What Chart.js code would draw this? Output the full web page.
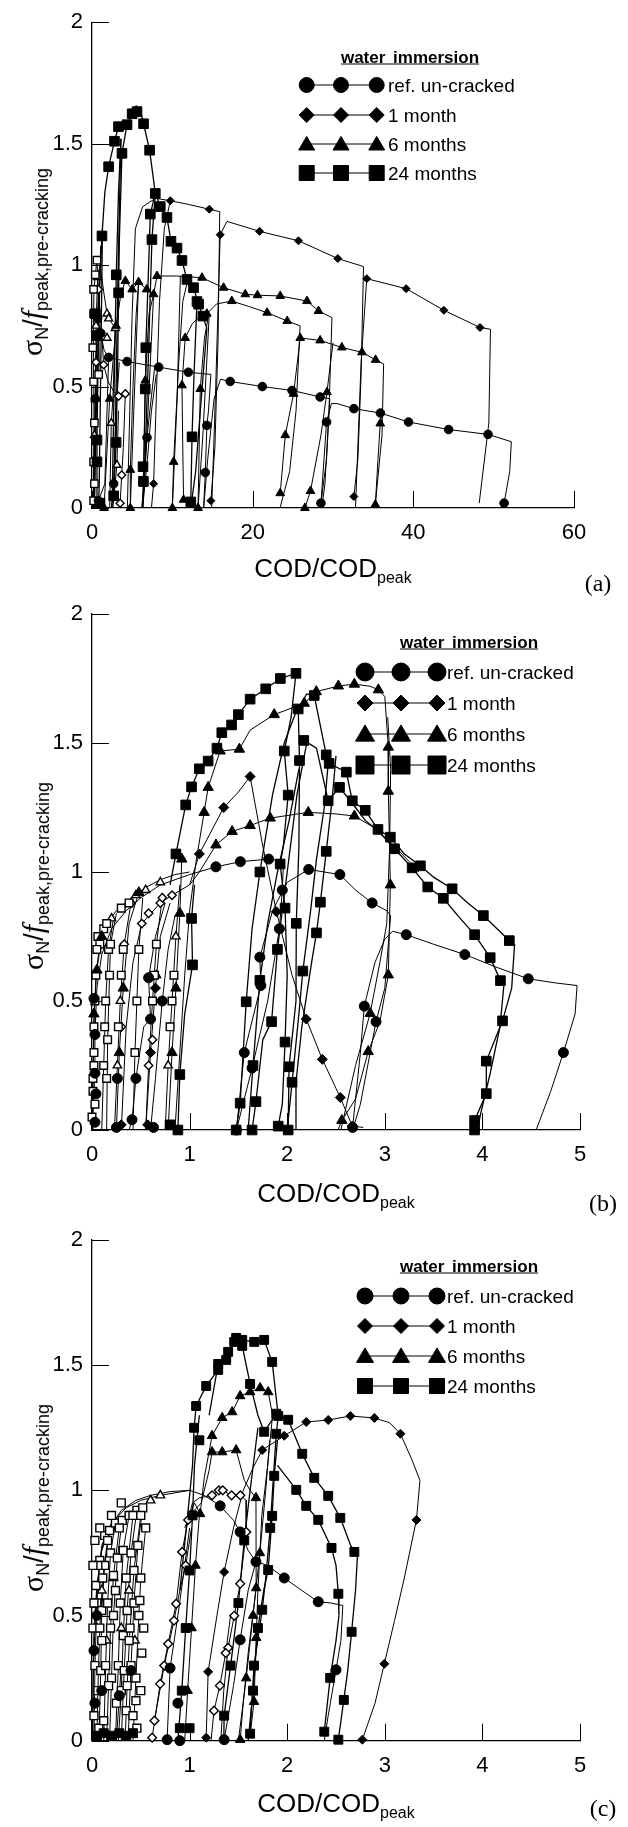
<!DOCTYPE html>
<html>
<head>
<meta charset="utf-8">
<script src="https://cdn.jsdelivr.net/npm/chart.js@4.4.1/dist/chart.umd.min.js"></script>
<style>
  body { margin:0; background:#fff; width:628px; height:1827px; position:relative; overflow:hidden;
         font-family:'Liberation Sans', Arial, sans-serif; color:#000; }
  canvas { position:absolute; left:0; }
  .t { position:absolute; white-space:nowrap; line-height:1; }
  .xt { font-size:26px; transform:translate(-50%,-50%); }
  .xt sub, .yt sub { font-size:16px; vertical-align:-0.35em; line-height:0; }
  .yt { font-size:27px; transform:translate(-50%,-50%) rotate(-90deg); }
  .yt .s { font-family:'Liberation Serif', serif; font-size:30px; }
  .yt i { font-family:'Liberation Serif', serif; font-size:30px; }
  .yt sub { font-size:18px; }
  .pl { font-family:'Liberation Serif', serif; font-size:24px; transform:translate(-50%,-50%); }
  .lt { font-size:17px; font-weight:bold; text-decoration:underline; transform:translate(-50%,-50%); word-spacing:3px; }
  .li { font-size:19px; transform:translateY(-50%); }
</style>
</head>
<body>
<canvas id="ca" width="628" height="560" style="top:0px"></canvas>
<canvas id="cb" width="628" height="590" style="top:590px"></canvas>
<canvas id="cc" width="628" height="575" style="top:1215px"></canvas>

<!-- panel (a) texts -->
<div class="t xt" style="left:333px;top:568px">COD/COD<sub>peak</sub></div>
<div class="t yt" style="left:32px;top:262px"><span class="s">σ</span><sub>N</sub>/<i>f</i><sub>peak,pre-cracking</sub></div>
<div class="t pl" style="left:598px;top:583px">(a)</div>
<div class="t lt" style="left:410px;top:57px">water immersion</div>
<div class="t li" style="left:388px;top:85px">ref. un-cracked</div>
<div class="t li" style="left:388px;top:115px">1 month</div>
<div class="t li" style="left:388px;top:144px">6 months</div>
<div class="t li" style="left:388px;top:173px">24 months</div>

<!-- panel (b) texts -->
<div class="t xt" style="left:336px;top:1193px">COD/COD<sub>peak</sub></div>
<div class="t yt" style="left:33px;top:876px"><span class="s">σ</span><sub>N</sub>/<i>f</i><sub>peak,pre-cracking</sub></div>
<div class="t pl" style="left:603px;top:1203px">(b)</div>
<div class="t lt" style="left:469px;top:642px">water immersion</div>
<div class="t li" style="left:447px;top:672px">ref. un-cracked</div>
<div class="t li" style="left:447px;top:703px">1 month</div>
<div class="t li" style="left:447px;top:734px">6 months</div>
<div class="t li" style="left:447px;top:765px">24 months</div>

<!-- panel (c) texts -->
<div class="t xt" style="left:336px;top:1803px">COD/COD<sub>peak</sub></div>
<div class="t yt" style="left:33px;top:1498px"><span class="s">σ</span><sub>N</sub>/<i>f</i><sub>peak,pre-cracking</sub></div>
<div class="t pl" style="left:603px;top:1808px">(c)</div>
<div class="t lt" style="left:469px;top:1266px">water immersion</div>
<div class="t li" style="left:447px;top:1296px">ref. un-cracked</div>
<div class="t li" style="left:447px;top:1326px">1 month</div>
<div class="t li" style="left:447px;top:1356px">6 months</div>
<div class="t li" style="left:447px;top:1386px">24 months</div>

<script>
// ---- panel (a) data: COD/CODpeak vs sigma_N / f_peak,pre-cracking ----
const aRefLines = [
  [[0.2,0],[0.4,0.45],[0.7,0.78],[1.1,0.72],[1.5,0.65],[2.07,0.62],[4.36,0.603],[8.3,0.58],[12.0,0.559],[14.8,0.55]],
  [[14.8,0.55],[14.5,0.4],[14.3,0.34],[14.1,0.146],[13.9,0]],
  [[13.9,0],[14.4,0.2],[15.2,0.45],[16.0,0.53],[17.2,0.521],[21.2,0.5],[24.9,0.484],[28.4,0.457],[29.6,0.45]],
  [[29.6,0.45],[29.2,0.2],[28.5,0.02]],
  [[28.5,0.02],[29.2,0.354],[29.8,0.43],[30.5,0.43],[32.6,0.409],[35.9,0.391],[39.4,0.354],[44.4,0.323],[49.3,0.303],[52.2,0.273]],
  [[52.2,0.273],[52.0,0.15],[51.3,0.02]],
  [[7.8,0.58],[7.2,0.4],[6.85,0.29],[6.5,0.1],[6.3,0]],
  [[6.3,0],[6.9,0.2],[7.4,0.4],[8.0,0.55]],
  [[0.8,0.03],[1.6,0.1],[2.07,0.62]],
  [[2.4,0],[2.7,0.1],[3.0,0.4],[3.4,0.6]]
];
const aRefMarks = [[2.07,0.62],[4.36,0.603],[8.3,0.58],[12.0,0.559],[14.3,0.34],[14.1,0.146],[17.2,0.521],[21.2,0.5],
  [24.9,0.484],[28.4,0.457],[28.5,0.02],[29.2,0.354],[32.6,0.409],[35.9,0.391],[39.4,0.354],[44.4,0.323],[49.3,0.303],
  [51.3,0.02],[6.85,0.29],[0.4,0.45],[0.7,0.78],[1.1,0.72],[0.8,0.03],[2.7,0.1]];

const aM1Lines = [
  [[4.4,0],[4.7,0.4],[5.0,0.8],[5.4,1.15],[6.3,1.24],[7.9,1.275],[9.75,1.265],[12.0,1.25],[14.6,1.23],[15.9,1.22]],
  [[15.9,1.22],[15.7,0.7],[15.3,0.25],[14.8,0.03]],
  [[14.9,0],[15.4,0.5],[15.8,0.95],[15.96,1.125],[16.8,1.18],[20.86,1.139],[25.7,1.1],[30.6,1.027],[33.8,0.994]],
  [[33.8,0.994],[33.5,0.55],[33.1,0.2],[32.6,0.047]],
  [[32.8,0],[33.5,0.6],[34.2,0.944],[39.1,0.903],[43.8,0.814],[48.3,0.743],[49.6,0.736]],
  [[49.6,0.736],[49.4,0.35],[48.2,0.02]],
  [[7.4,0],[7.67,0.1],[8.0,0.45],[8.4,0.85],[9.0,1.15],[9.75,1.265]]
];
const aM1Marks = [[9.75,1.265],[14.6,1.23],[15.96,1.125],[20.86,1.139],[25.7,1.1],[30.6,1.027],[34.2,0.944],[39.1,0.903],
  [43.8,0.814],[48.3,0.743],[32.6,0.047],[14.8,0.03],[7.67,0.1]];

const aM6Lines = [
  [[1.5,0],[2.2,0.45],[3.0,0.75],[3.6,0.88],[4.15,0.935],[5.0,0.9],[5.8,0.93],[6.8,0.9],[7.67,0.88],[8.09,0.955],[10.5,0.955],
   [13.69,0.948],[16.38,0.907],[19.08,0.88],[20.6,0.876],[23.43,0.873],[26.76,0.852],[28.2,0.811],[29.87,0.784]],
  [[29.87,0.784],[29.5,0.4],[29.0,0.1],[28.6,0]],
  [[26.5,0],[27.2,0.07],[28.5,0.3],[29.25,0.477],[29.7,0.6],[30.0,0.68]],
  [[11.4,0.034],[11.3,0.25],[11.2,0.505],[11.6,0.7],[12.5,0.76],[13.5,0.79],[14.3,0.8],[15.5,0.84],[17.4,0.852],[19.5,0.83],
   [21.8,0.804],[24.3,0.77],[25.9,0.75]],
  [[25.9,0.75],[25.4,0.4],[24.6,0.15],[23.4,0]],
  [[23.43,0.061],[24.06,0.3],[25.09,0.47],[25.92,0.7]],
  [[25.92,0.7],[28.4,0.69],[31.1,0.661],[33.6,0.641],[35.3,0.61],[36.3,0.593]],
  [[36.3,0.593],[36.1,0.3],[35.27,0.014]],
  [[35.27,0.014],[35.6,0.2],[35.88,0.348],[36.1,0.39]],
  [[5.8,0.93],[5.2,0.4],[4.77,0]],
  [[4.77,0],[4.77,0.157],[5.1,0.5],[5.5,0.8],[5.8,0.93]],
  [[7.67,0.88],[6.9,0.35],[6.3,0]],
  [[6.3,0],[6.42,0.1],[6.63,0.525],[7.1,0.8],[7.67,0.88]],
  [[11.0,0.955],[10.6,0.45],[10.0,0]],
  [[10.0,0],[10.16,0.19],[10.8,0.6],[11.3,0.85],[12.0,0.95]],
  [[14.6,0.8],[13.8,0.3],[13.2,0]],
  [[13.2,0],[13.48,0.49],[14.0,0.7],[14.5,0.79]]
];
const aM6Marks = [[4.15,0.935],[5.0,0.9],[5.8,0.93],[6.8,0.9],[7.67,0.88],[8.09,0.955],[13.69,0.948],[16.38,0.907],[19.08,0.88],
  [20.6,0.876],[23.43,0.873],[26.76,0.852],[28.2,0.811],[29.25,0.477],[27.2,0.07],[26.5,0],[14.3,0.8],[17.4,0.852],[21.8,0.804],
  [24.3,0.77],[23.43,0.061],[24.06,0.3],[25.09,0.47],[25.92,0.7],[28.4,0.69],[31.1,0.661],[33.6,0.641],[35.3,0.61],[35.27,0.014],
  [35.88,0.348],[4.77,0],[4.77,0.157],[6.42,0.1],[6.63,0.525],[10.0,0],[10.16,0.19],[11.2,0.505],[11.6,0.7],[11.4,0.034],
  [13.48,0.49],[13.2,0],[3.0,0.75],[2.2,0.45],[1.5,0]];

const aM24Lines = [
  [[0.3,0],[0.6,0.5],[1.0,0.95],[1.24,1.12],[1.6,1.3],[2.07,1.405],[2.8,1.51],[3.3,1.57],[4.36,1.578],[5.0,1.623],[5.5,1.655],
   [6.0,1.64],[6.42,1.582],[7.17,1.473],[7.88,1.295],[8.5,1.241],[9.33,1.196],[9.83,1.098],[10.58,1.07],[11.2,1.019],
   [11.82,0.941],[12.64,0.907],[13.27,0.839],[13.8,0.79],[14.3,0.74]],
  [[14.3,0.74],[13.6,0.45],[12.9,0.15],[12.3,0]],
  [[12.3,0.025],[12.45,0.293],[12.7,0.55],[13.07,0.85]],
  [[3.6,1.52],[3.2,0.9],[2.9,0.3],[2.7,0.05]],
  [[2.7,0.05],[3.0,0.27],[3.2,0.6],[3.31,0.886],[3.4,1.1],[3.73,1.46],[4.36,1.578]],
  [[2.5,0],[2.7,0.4],[3.02,0.96],[3.3,1.3],[3.6,1.52]],
  [[7.88,1.295],[7.46,1.105],[7.0,0.6],[6.5,0.1],[6.2,0]],
  [[6.3,0],[6.4,0.11],[6.63,0.49],[6.7,0.66],[7.0,0.95],[7.26,1.21],[7.88,1.295]],
  [[1.3,1.15],[1.1,0.6],[0.9,0.1],[0.8,0]],
  [[0.55,0],[0.62,0.19],[0.62,0.28],[0.75,0.6],[0.9,0.9],[1.1,1.08]]
];
const aM24Marks = [[1.24,1.12],[2.07,1.405],[2.8,1.51],[3.3,1.57],[4.36,1.578],[5.0,1.623],[5.6,1.632],[6.42,1.582],[7.17,1.473],
  [7.88,1.295],[8.5,1.241],[9.33,1.196],[9.83,1.098],[10.58,1.07],[11.2,1.019],[11.82,0.941],[12.64,0.907],[13.27,0.839],
  [13.8,0.79],[12.45,0.293],[12.3,0.025],[13.07,0.85],[3.73,1.46],[3.02,0.96],[3.31,0.886],[3.0,0.27],[2.7,0.05],[7.26,1.21],
  [7.46,1.105],[6.7,0.66],[6.63,0.49],[6.4,0.11],[0.62,0.19],[0.62,0.28],[1.0,0.02],[0.41,0.8],[0.6,0.71],[6.35,0.17]];

const aPreLines = [
  [[0.15,0],[0.2,0.19],[0.25,0.35],[0.22,0.52],[0.2,0.8],[0.25,0.9],[0.41,0.96],[0.62,1.02],[0.8,0.9],[0.9,0.6],[0.83,0.55]],
  [[0.2,0],[0.3,0.3],[0.41,0.45],[0.5,0.75],[0.7,0.95],[1.0,1.0],[1.5,0.88],[1.87,0.8],[2.07,0.78],[2.5,0.76],[2.9,0.74]],
  [[2.9,0.74],[2.6,0.45],[2.4,0.35],[2.2,0]],
  [[2.6,0],[3.1,0.177],[3.3,0.4]],
  [[0.3,0],[0.5,0.6],[0.8,0.9],[1.2,0.72],[1.45,0.59],[2.0,0.52],[2.7,0.48],[3.3,0.46],[4.15,0.47]],
  [[4.15,0.47],[3.9,0.25],[3.7,0.136],[3.5,0.02]]
];
const aOpenSq = [[0.2,0.03],[0.2,0.19],[0.3,0.35],[0.2,0.52],[0.2,0.8],[0.2,0.9],[0.41,0.96],[0.62,1.02],[0.83,0.55],[0.1,0.66],[0.3,0.1]];
const aOpenTri = [[0.3,0.3],[0.41,0.45],[0.5,0.75],[0.7,0.95],[1.87,0.8],[1.87,0.7],[2.07,0.78],[2.9,0.74],[2.4,0.35],[3.1,0.177]];
const aOpenDia = [[0.5,0.6],[0.8,0.9],[1.45,0.59],[3.3,0.46],[4.15,0.47],[3.7,0.136],[3.5,0.02]];

// ---- panel (b) data ----
const bRefLines = [
  [[0,0],[0.03,0.22],[0.03,0.37],[0.05,0.55],[0.1,0.68],[0.2,0.78],[0.35,0.85],[0.5,0.9],[0.7,0.95],[1.0,0.99],[1.27,1.02],
   [1.52,1.04],[1.81,1.05],[1.93,1.045],[1.96,1.02]],
  [[1.96,1.02],[1.95,0.93],[1.92,0.78],[1.8,0.5],[1.64,0.24],[1.48,0]],
  [[1.48,0],[1.56,0.3],[1.73,0.56],[1.72,0.67],[1.85,0.85],[2.0,0.96],[2.22,1.01],[2.54,0.99],[2.7,0.93],[2.87,0.88],[3.02,0.85],[3.06,0.83]],
  [[3.06,0.83],[3.0,0.55],[2.91,0.42],[2.75,0.1],[2.67,0]],
  [[2.67,0.01],[2.75,0.3],[2.79,0.48],[2.9,0.65],[3.0,0.74],[3.08,0.77]],
  [[3.08,0.77],[3.22,0.757],[3.5,0.72],[3.82,0.68],[4.15,0.63],[4.47,0.586],[4.75,0.57],[4.97,0.56]],
  [[4.97,0.56],[4.95,0.45],[4.83,0.3],[4.7,0.15],[4.55,0]],
  [[0.38,0],[0.41,0.04],[0.45,0.2],[0.53,0.4],[0.6,0.43],[0.58,0.59],[0.65,0.75],[0.75,0.88]],
  [[0.6,0],[0.65,0.2],[0.72,0.5],[0.78,0.7],[0.85,0.83]]
];
const bRefMarks = [[0.03,0.22],[0.03,0.37],[0.02,0.51],[0.04,0.14],[0.03,0.03],[1.27,1.02],[1.52,1.04],[1.81,1.05],[1.95,0.93],
  [1.92,0.78],[1.72,0.67],[1.73,0.56],[1.56,0.3],[1.64,0.24],[1.48,0],[2.22,1.01],[2.54,0.99],[2.87,0.88],[3.22,0.757],
  [3.82,0.68],[4.47,0.586],[4.83,0.3],[2.79,0.48],[2.91,0.42],[2.67,0.01],[0.41,0.04],[0.45,0.2],[0.6,0.43],[0.58,0.59],
  [0.72,0.5],[0.63,0.01],[0.25,0.01],[0.26,0.2]];

const bM1Lines = [
  [[0.3,0],[0.35,0.4],[0.42,0.65],[0.51,0.8],[0.7,0.88],[0.82,0.91],[1.0,0.95],[1.1,1.07],[1.35,1.25],[1.5,1.31],[1.58,1.35],[1.62,1.37]],
  [[1.62,1.37],[1.75,1.1],[1.89,0.846],[2.05,0.6],[2.195,0.43],[2.36,0.274],[2.544,0.126],[2.667,0.015],[2.78,0.01]],
  [[0.55,0],[0.6,0.3],[0.65,0.55],[0.7,0.75],[0.8,0.88]]
];
const bM1Marks = [[1.1,1.07],[1.35,1.25],[1.62,1.37],[1.89,0.846],[2.195,0.43],[2.36,0.274],[2.544,0.126],[2.667,0.015],
  [0.6,0.3],[0.65,0.55],[0.3,0.02],[0.57,0.02]];

const bM6Lines = [
  [[0.85,0],[0.9,0.3],[0.95,0.6],[1.0,0.85],[1.07,1.05],[1.149,1.231],[1.19,1.328],[1.313,1.469],[1.51,1.476],[1.62,1.55],
   [1.867,1.61],[2.175,1.654],[2.298,1.699],[2.524,1.721],[2.688,1.728],[2.85,1.72],[2.934,1.706],[3.0,1.68]],
  [[3.0,1.68],[3.036,1.484],[3.036,1.313],[3.057,0.95],[3.036,0.601],[2.95,0.42],[2.83,0.304],[2.7,0.12],[2.56,0.037],[2.52,0]],
  [[2.55,0],[2.7,0.25],[2.85,0.452],[2.95,0.65],[3.02,0.8],[3.05,1.1],[3.06,1.4],[3.03,1.6]],
  [[1.0,0.95],[1.1,1.0],[1.27,1.105],[1.436,1.157],[1.62,1.18],[1.826,1.209],[2.216,1.231],[2.5,1.225],[2.688,1.217],
   [2.9,1.17],[3.1,1.1],[3.35,1.0]],
  [[0,0],[0.02,0.45],[0.05,0.62],[0.1,0.75]],
  [[0.25,0],[0.28,0.3],[0.32,0.55],[0.38,0.8],[0.48,0.92]],
  [[0.78,0],[0.82,0.3],[0.86,0.55],[0.9,0.84],[0.92,1.05]]
];
const bM6Marks = [[1.149,1.231],[1.19,1.328],[1.313,1.469],[1.51,1.476],[1.867,1.61],[2.175,1.654],[2.298,1.699],[2.524,1.721],
  [2.688,1.728],[2.934,1.706],[3.036,1.484],[3.036,1.313],[3.057,0.95],[3.036,0.601],[2.83,0.304],[2.85,0.452],[2.56,0.037],
  [1.27,1.105],[1.436,1.157],[1.62,1.18],[1.826,1.209],[2.216,1.231],[2.688,1.217],[0.9,0.84],[0.92,1.05],[0.86,0.55],
  [0.02,0.45],[0.05,0.62],[0.28,0.3],[0.32,0.55],[0.48,0.92],[0.1,0.75],[0.82,0.3]];

const bM24Lines = [
  [[0.8,0.95],[0.86,1.07],[0.96,1.26],[1.02,1.33],[1.1,1.4],[1.19,1.43],[1.28,1.48],[1.33,1.54],[1.43,1.57],[1.5,1.61],
   [1.62,1.67],[1.78,1.71],[1.93,1.75],[2.09,1.77]],
  [[2.09,1.77],[2.04,1.6],[1.97,1.469],[2.01,1.298],[1.96,1.1],[1.928,1.031],[1.978,0.86],[2.0,0.6],[1.978,0.341],[1.95,0.1],[1.908,0.015]],
  [[2.01,0],[2.019,0.245],[2.09,0.5],[2.093,0.801],[2.12,1.1],[2.126,1.432],[2.113,1.632],[2.2,1.69],[2.277,1.684]],
  [[2.277,1.684],[2.4,1.454],[2.43,1.421],[2.606,1.387],[2.667,1.276],[2.8,1.239],[2.93,1.165],[3.057,1.135],[3.2,1.07],
   [3.365,1.024],[3.5,0.98],[3.69,0.935],[3.85,0.88],[4.01,0.831],[4.15,0.78],[4.276,0.734],[4.33,0.72]],
  [[4.33,0.72],[4.3,0.55],[4.206,0.423],[4.04,0.267],[4.04,0.141],[3.92,0.037],[3.92,0]],
  [[2.17,1.51],[2.3,1.48],[2.42,1.276],[2.536,1.328],[2.7,1.25],[2.8,1.2],[2.93,1.16],[3.1,1.09],[3.28,1.016],[3.44,0.942],
   [3.6,0.898],[3.75,0.83],[3.92,0.757],[4.08,0.668],[4.185,0.579],[4.22,0.56]],
  [[4.22,0.56],[4.18,0.4],[4.08,0.22],[3.98,0.06],[3.95,0]],
  [[1.477,0],[1.518,0.104],[1.58,0.497],[1.64,0.78],[1.72,1.0],[1.85,1.3],[1.97,1.5],[2.09,1.62]],
  [[1.64,0],[1.68,0.11],[1.75,0.35],[1.84,0.42],[1.9,0.7],[2.0,1.0],[2.1,1.3],[2.2,1.5]],
  [[2.0,0],[2.05,0.185],[2.12,0.45],[2.16,0.616],[2.24,0.85],[2.3,1.05],[2.38,1.25],[2.42,1.42]],
  [[2.09,0],[2.09,0.185],[2.15,0.4],[2.25,0.65],[2.3,0.764],[2.34,0.883],[2.4,1.08],[2.46,1.28],[2.5,1.45]],
  [[1.6,0],[1.65,0.25],[1.72,0.58],[1.8,0.8],[1.9,1.0],[2.02,1.2],[2.12,1.4]],
  [[0.88,0],[0.9,0.215],[0.95,0.45],[1.03,0.64],[1.02,0.82],[1.05,0.95]]
];
const bM24Marks = [[0.86,1.07],[0.96,1.26],[1.02,1.33],[1.1,1.4],[1.19,1.43],[1.28,1.48],[1.33,1.54],[1.43,1.57],[1.5,1.61],
  [1.62,1.67],[1.78,1.71],[1.93,1.75],[2.09,1.77],[1.97,1.469],[2.01,1.298],[1.928,1.031],[1.978,0.86],[1.978,0.341],
  [1.908,0.015],[2.01,0],[2.019,0.245],[2.093,0.801],[2.126,1.432],[2.113,1.632],[2.277,1.684],[2.4,1.454],[2.43,1.421],
  [2.606,1.387],[2.667,1.276],[2.8,1.239],[2.93,1.165],[3.057,1.135],[3.365,1.024],[3.69,0.935],[4.01,0.831],[4.276,0.734],
  [4.206,0.423],[4.04,0.267],[4.04,0.141],[3.92,0.037],[3.92,0],[2.17,1.51],[2.42,1.276],[2.536,1.328],[3.1,1.09],
  [3.28,1.016],[3.44,0.942],[3.6,0.898],[3.92,0.757],[4.08,0.668],[4.185,0.579],[1.477,0],[1.518,0.104],[1.58,0.497],
  [1.72,1.0],[1.64,0],[1.68,0.11],[1.84,0.42],[1.9,0.7],[2.05,0.185],[2.16,0.616],[2.3,0.764],[2.34,0.883],[2.4,1.08],
  [1.72,0.58],[1.65,0.25],[0.88,0],[0.8,0.02],[0.9,0.215],[1.03,0.64],[1.02,0.82]];

const bPreLines = [
  [[0,0],[0.01,0.2],[0.02,0.4],[0.04,0.6],[0.08,0.72],[0.15,0.8],[0.25,0.85],[0.4,0.9],[0.55,0.94],[0.7,0.97],[0.85,0.99],[1.0,1.0]],
  [[0.1,0],[0.12,0.25],[0.14,0.5],[0.17,0.7],[0.22,0.82]],
  [[0.15,0],[0.16,0.35],[0.18,0.6],[0.19,0.72],[0.25,0.84]],
  [[0.23,0],[0.26,0.25],[0.29,0.5],[0.33,0.72],[0.4,0.88]],
  [[0.42,0],[0.44,0.3],[0.46,0.5],[0.48,0.7],[0.52,0.9]],
  [[0.55,0],[0.58,0.25],[0.62,0.5],[0.66,0.72],[0.72,0.9]],
  [[0.75,0],[0.78,0.25],[0.82,0.5],[0.86,0.75],[0.9,0.95]]
];
const bOpenSq = [[0.01,0.2],[0.02,0.4],[0.04,0.6],[0.08,0.72],[0.12,0.78],[0.15,0.8],[0.12,0.25],[0.14,0.5],[0.17,0.7],
  [0.3,0.86],[0.38,0.88],[0.62,0.5],[0.64,0.6],[0.66,0.72],[0.82,0.5],[0.84,0.6],[0.03,0.1],[0.02,0.3],[0.13,0.4],[0.8,0.4],
  [0,0.05],[0.01,0.15],[0.02,0.25],[0.03,0.5],[0.05,0.7],[0.06,0.75],[0.15,0.2],[0.16,0.35],[0.18,0.6],[0.19,0.72],
  [0.27,0.4],[0.3,0.6],[0.32,0.7],[0.44,0.3],[0.46,0.5],[0.48,0.7]];
const bOpenTri = [[0.05,0.62],[0.2,0.82],[0.26,0.25],[0.29,0.5],[0.45,0.91],[0.55,0.93],[0.78,0.25],[0.86,0.75],[0.66,0.6],[0.7,0.96]];
const bOpenDia = [[0.33,0.72],[0.4,0.88],[0.51,0.8],[0.58,0.84],[0.7,0.88],[0.82,0.91],[0.58,0.25],[0.62,0.35],[0.72,0.9],[0.3,0.4]];

// ---- panel (c) data ----
const cRefLines = [
  [[0,0],[0.02,0.36],[0.05,0.6],[0.1,0.78],[0.2,0.87],[0.35,0.93],[0.5,0.96],[0.7,0.98],[1.0,1.0],[1.15,0.98],[1.313,0.938],
   [1.45,0.88],[1.518,0.834],[1.6,0.76],[1.68,0.715],[1.8,0.7],[1.97,0.65],[2.15,0.6],[2.318,0.555],[2.45,0.55],[2.57,0.54]],
  [[2.57,0.54],[2.55,0.4],[2.5,0.283],[2.42,0.1],[2.38,0]],
  [[0.75,0],[0.77,0.004],[0.8,0.29],[0.88,0.5],[0.95,0.7],[1.0,0.85]],
  [[1.34,0],[1.354,0.004],[1.45,0.22],[1.518,0.403],[1.6,0.6],[1.68,0.715]],
  [[0.25,0],[0.28,0.18],[0.3,0.3]]
];
const cRefMarks = [[0.02,0.36],[0.03,0.15],[0.05,0.5],[0.1,0.2],[1.313,0.938],[1.518,0.834],[1.68,0.715],[1.97,0.65],
  [2.318,0.555],[2.5,0.283],[0.77,0.004],[0.8,0.29],[1.354,0.004],[1.518,0.403],[0.28,0.18],[0.4,0.28],[0.88,0.15],[0.9,0]];

const cM1Lines = [
  [[1.15,0],[1.17,0.012],[1.19,0.275],[1.28,0.5],[1.354,0.674],[1.45,0.85],[1.55,1.0],[1.65,1.09],[1.744,1.161],[1.97,1.218],
   [2.195,1.273],[2.42,1.281],[2.647,1.297],[2.893,1.289],[3.05,1.27],[3.16,1.226],[3.28,1.12],[3.36,1.04],[3.34,0.95],
   [3.324,0.882],[3.2,0.65],[3.1,0.48],[2.995,0.307],[2.9,0.15],[2.77,0.004]],
  [[0.616,0.012],[0.698,0.227],[0.78,0.387],[0.862,0.547],[0.923,0.754],[0.985,0.882],[1.03,0.95],[1.1,0.97],[1.23,0.98],
   [1.3,1.0],[1.34,1.0],[1.43,0.98],[1.52,0.98],[1.58,0.96]],
  [[1.58,0.96],[1.58,0.834],[1.518,0.627],[1.457,0.499],[1.395,0.371],[1.35,0.2],[1.32,0]],
  [[0.64,0.08],[0.74,0.3],[0.84,0.48],[0.9,0.6],[0.96,0.7],[1.02,0.85]],
  [[1.22,0],[1.25,0.12],[1.31,0.22],[1.37,0.35],[1.42,0.5]]
];
const cM1Marks = [[1.17,0.012],[1.19,0.275],[1.354,0.674],[1.744,1.161],[1.97,1.218],[2.195,1.273],[2.42,1.281],[2.647,1.297],
  [2.893,1.289],[3.16,1.226],[3.324,0.882],[2.995,0.307],[2.77,0.004]];
const cOpenDia = [[0.616,0.012],[0.698,0.227],[0.78,0.387],[0.862,0.547],[0.923,0.754],[0.985,0.882],[1.23,0.98],[1.3,1.0],
  [1.34,1.0],[1.43,0.98],[1.52,0.98],[1.58,0.834],[1.518,0.627],[1.457,0.499],[1.395,0.371],[0.64,0.08],[0.74,0.3],
  [0.84,0.48],[0.96,0.7],[1.25,0.12],[1.31,0.22],[1.37,0.35]];

const cM6Lines = [
  [[0.95,0.85],[1.05,0.95],[1.108,0.906],[1.15,1.05],[1.23,1.218],[1.334,1.29],[1.436,1.313],[1.518,1.377],[1.62,1.393],
   [1.723,1.409],[1.805,1.393],[1.85,1.3]],
  [[1.85,1.3],[1.8,1.1],[1.74,0.9],[1.7,0.6],[1.682,0.411],[1.66,0.156],[1.62,0.02]],
  [[1.0,0.9],[1.12,0.95],[1.2,1.08],[1.23,1.153],[1.334,1.153],[1.477,1.161],[1.56,1.04],[1.62,1.0],[1.68,0.97]],
  [[1.68,0.97],[1.682,0.61],[1.6,0.35],[1.55,0.15],[1.518,0.004]],
  [[0.95,0],[0.98,0.2],[1.02,0.45],[1.06,0.7],[1.1,0.9]],
  [[1.5,0],[1.58,0.25],[1.65,0.5],[1.72,0.75],[1.78,1.0],[1.82,1.2]]
];
const cM6Marks = [[1.23,1.218],[1.334,1.29],[1.436,1.313],[1.518,1.377],[1.62,1.393],[1.723,1.409],[1.805,1.393],[1.682,0.411],
  [1.66,0.156],[1.23,1.153],[1.334,1.153],[1.477,1.161],[1.68,0.97],[1.682,0.61],[1.518,0.004],[1.108,0.906],[1.06,0.7],
  [1.02,0.45],[0.98,0.2],[1.65,0.5],[1.72,0.75],[1.58,0.25]];

const cM24Lines = [
  [[0.9,0.6],[0.98,0.9],[1.03,1.1],[1.046,1.25],[1.067,1.337],[1.17,1.417],[1.293,1.481],[1.395,1.553],[1.457,1.593],
   [1.539,1.601],[1.662,1.593],[1.764,1.601],[1.846,1.513]],
  [[1.846,1.513],[1.908,1.297],[1.888,1.226],[1.85,1.0],[1.826,0.85],[1.78,0.65],[1.744,0.523],[1.66,0.3],[1.62,0.028]],
  [[1.2,1.3],[1.293,1.505],[1.375,1.521],[1.477,1.609],[1.539,1.577],[1.62,1.425],[1.7,1.3],[1.764,1.234],[1.888,1.306],
   [2.01,1.282],[2.154,1.146],[2.277,1.05],[2.42,0.978],[2.544,0.89],[2.65,0.78],[2.688,0.754],[2.72,0.74]],
  [[2.72,0.74],[2.7,0.6],[2.66,0.435],[2.62,0.28],[2.58,0.163],[2.524,0.004]],
  [[1.9,1.1],[2.0,1.05],[2.093,1.002],[2.195,0.938],[2.318,0.882],[2.454,0.77],[2.5,0.7],[2.524,0.587],[2.53,0.5]],
  [[2.53,0.5],[2.5,0.4],[2.44,0.251],[2.38,0.036]],
  [[0.88,0],[0.92,0.2],[0.96,0.45],[1.0,0.68],[1.03,0.9],[1.05,1.1],[1.1,1.3]],
  [[1.35,0],[1.354,0.1],[1.42,0.3],[1.5,0.55],[1.56,0.8],[1.62,1.0],[1.7,1.25]],
  [[1.6,0],[1.65,0.2],[1.7,0.45],[1.76,0.6],[1.805,0.682],[1.846,0.898],[1.867,1.058],[1.9,1.2]]
];
const cM24Marks = [[1.046,1.25],[1.067,1.337],[1.17,1.417],[1.293,1.481],[1.395,1.553],[1.457,1.593],[1.539,1.601],[1.662,1.593],
  [1.764,1.601],[1.846,1.513],[1.908,1.297],[1.888,1.226],[1.826,0.85],[1.744,0.523],[1.66,0.3],[1.62,0.028],[1.293,1.505],
  [1.375,1.521],[1.477,1.609],[1.539,1.577],[1.62,1.425],[1.764,1.234],[1.888,1.306],[2.01,1.282],[2.154,1.146],[2.277,1.05],
  [2.42,0.978],[2.544,0.89],[2.688,0.754],[2.66,0.435],[2.58,0.163],[2.524,0.004],[2.093,1.002],[2.195,0.938],[2.318,0.882],
  [2.454,0.77],[2.524,0.587],[2.44,0.251],[2.38,0.036],[0.92,0.2],[0.96,0.45],[1.0,0.68],[1.03,0.9],[0.9,0.05],[1.354,0.1],
  [1.42,0.3],[1.5,0.55],[1.56,0.8],[1.805,0.682],[1.846,0.898],[1.867,1.058],[1.7,0.45],[1.65,0.2],[1.0,0.05],[1.1,1.2],
  [0.05,0.02],[0.12,0.03],[0.2,0.02],[0.28,0.03],[0.35,0.02],[0.42,0.03]];

const cPreLines = [
  [[0,0],[0.01,0.25],[0.02,0.45],[0.05,0.62],[0.1,0.76],[0.2,0.86],[0.3,0.92],[0.45,0.96],[0.6,0.98],[0.8,0.995],[1.0,1.0]],
  [[0.02,0],[0.03,0.3],[0.05,0.55],[0.08,0.72],[0.13,0.82]],
  [[0.05,0],[0.06,0.2],[0.08,0.45],[0.11,0.65],[0.16,0.8]],
  [[0.07,0],[0.09,0.28],[0.1,0.52],[0.13,0.7],[0.18,0.84]],
  [[0.12,0],[0.14,0.3],[0.16,0.55],[0.19,0.75],[0.24,0.87]],
  [[0.15,0],[0.17,0.22],[0.19,0.45],[0.22,0.66],[0.28,0.85]],
  [[0.18,0],[0.2,0.25],[0.22,0.5],[0.26,0.73],[0.31,0.88]],
  [[0.24,0],[0.27,0.3],[0.29,0.55],[0.32,0.76],[0.38,0.9]],
  [[0.27,0],[0.3,0.2],[0.32,0.42],[0.35,0.65],[0.42,0.9]],
  [[0.3,0],[0.33,0.28],[0.36,0.52],[0.4,0.75],[0.46,0.92]],
  [[0.34,0],[0.36,0.22],[0.39,0.45],[0.43,0.68],[0.5,0.9]],
  [[0.37,0],[0.4,0.3],[0.43,0.55],[0.47,0.78],[0.52,0.93]],
  [[0.42,0],[0.45,0.25],[0.48,0.5],[0.5,0.65],[0.55,0.85]]
];
const cOpenSq = [[0.03,0.3],[0.05,0.55],[0.08,0.72],[0.09,0.28],[0.1,0.52],[0.13,0.7],[0.14,0.3],[0.16,0.55],[0.19,0.75],
  [0.2,0.25],[0.22,0.5],[0.26,0.73],[0.27,0.3],[0.29,0.55],[0.32,0.76],[0.33,0.28],[0.36,0.52],[0.4,0.75],[0.4,0.3],
  [0.43,0.55],[0.47,0.78],[0.45,0.25],[0.48,0.5],[0.5,0.65],[0.13,0.82],[0.18,0.84],[0.24,0.87],[0.31,0.88],[0.38,0.9],
  [0.46,0.92],[0.52,0.93],[0.02,0.1],[0.07,0.05],[0.12,0.08],[0.01,0.45],[0.04,0.62],[0.06,0.7],[0.25,0.15],[0.35,0.12],
  [0.42,0.1],[0.55,0.85],[0.51,0.35],[0.49,0.56],[0.45,0.16],
  [0.06,0.2],[0.08,0.45],[0.11,0.65],[0.16,0.8],[0.17,0.22],[0.19,0.45],[0.22,0.66],[0.28,0.85],[0.3,0.2],[0.32,0.42],
  [0.35,0.65],[0.42,0.9],[0.36,0.22],[0.39,0.45],[0.43,0.68],[0.5,0.9],[0.01,0.7],[0.03,0.8],[0.08,0.85],[0.2,0.9],
  [0.3,0.95],[0.02,0.55],[0.1,0.4],[0.24,0.6],[0.38,0.4],[0.46,0.05],[0.5,0.2],[0.53,0.45]];
const cOpenTri = [[0.05,0.45],[0.1,0.6],[0.15,0.4],[0.22,0.65],[0.3,0.45],[0.38,0.6],[0.44,0.4],[0.6,0.96],[0.7,0.98]];

// ---- drawing ----
const FONT = "'Liberation Sans', Arial, sans-serif";

function xy(p) { return { x: p[0], y: p[1] }; }

function lineSet(path, w) {
  return { data: path.map(xy), showLine: true, borderColor: '#000', borderWidth: w, pointRadius: 0,
           pointHoverRadius: 0, tension: 0, clip: false, order: 3 };
}
function markSet(pts, style, r, open) {
  return { data: pts.map(xy), showLine: false, pointStyle: style, pointRadius: r, pointHoverRadius: r,
           pointBackgroundColor: open ? '#fff' : '#000', pointBorderColor: '#000', pointBorderWidth: open ? 1.4 : 1,
           clip: false, order: open ? 2 : 1 };
}

// inward tick marks like the original plot
const innerTicks = {
  id: 'innerTicks',
  beforeDatasetsDraw(chart) {
    const { ctx, chartArea: ca, scales: { x, y } } = chart;
    ctx.save();
    ctx.strokeStyle = '#000';
    ctx.lineWidth = 1;
    ctx.beginPath();
    x.ticks.forEach(t => {
      const px = Math.round(x.getPixelForValue(t.value)) + 0.5;
      ctx.moveTo(px, ca.bottom); ctx.lineTo(px, ca.bottom - 17);
    });
    y.ticks.forEach(t => {
      const py = Math.round(y.getPixelForValue(t.value)) + 0.5;
      ctx.moveTo(ca.left, py); ctx.lineTo(ca.left + 17, py);
    });
    ctx.stroke();
    ctx.restore();
  }
};

function drawMarker(ctx, style, x, y, s) {
  ctx.beginPath();
  if (style === 'circle') ctx.arc(x, y, s, 0, Math.PI * 2);
  else if (style === 'rectRot') { ctx.moveTo(x, y - s); ctx.lineTo(x + s, y); ctx.lineTo(x, y + s); ctx.lineTo(x - s, y); ctx.closePath(); }
  else if (style === 'triangle') { ctx.moveTo(x, y - 0.95 * s); ctx.lineTo(x + s, y + 0.75 * s); ctx.lineTo(x - s, y + 0.75 * s); ctx.closePath(); }
  else ctx.rect(x - s, y - s, 2 * s, 2 * s);
  ctx.fill();
  ctx.stroke();
}

// marker strip of the legend (text is html)
const markerLegend = {
  id: 'markerLegend',
  afterDraw(chart, args, o) {
    const ctx = chart.ctx;
    const styles = ['circle', 'rectRot', 'triangle', 'rect'];
    ctx.save();
    ctx.strokeStyle = '#000';
    ctx.fillStyle = '#000';
    ctx.lineWidth = 1;
    o.rows.forEach((ry, i) => {
      ctx.beginPath();
      ctx.moveTo(o.xs[0], ry); ctx.lineTo(o.xs[2], ry);
      ctx.stroke();
      o.xs.forEach(px => drawMarker(ctx, styles[i], px, ry, o.size[i]));
    });
    ctx.restore();
  }
};

function makePanel(id, p) {
  const ds = [];
  p.pre.lines.forEach(l => ds.push(lineSet(l, 1)));
  p.ref[0].forEach(l => ds.push(lineSet(l, 1)));
  p.m1[0].forEach(l => ds.push(lineSet(l, 1)));
  p.m6[0].forEach(l => ds.push(lineSet(l, 1)));
  p.m24[0].forEach(l => ds.push(lineSet(l, 1.3)));
  if (p.pre.sq) ds.push(markSet(p.pre.sq, 'rect', p.r.open + 1.2, true));
  if (p.pre.tri) ds.push(markSet(p.pre.tri, 'triangle', p.r.open + 0.6, true));
  if (p.pre.dia) ds.push(markSet(p.pre.dia, 'rectRot', p.r.open, true));
  ds.push(markSet(p.ref[1], 'circle', p.r.circle, false));
  ds.push(markSet(p.m1[1], 'rectRot', p.r.dia, false));
  ds.push(markSet(p.m6[1], 'triangle', p.r.tri, false));
  ds.push(markSet(p.m24[1], 'rect', p.r.sq, false));

  const tickFont = { family: FONT, size: 22 };
  return new Chart(document.getElementById(id), {
    type: 'scatter',
    data: { datasets: ds },
    plugins: [innerTicks, markerLegend],
    options: {
      responsive: false,
      animation: false,
      events: [],
      devicePixelRatio: 1,
      layout: { padding: { top: p.padTop, right: p.padRight, left: 0, bottom: 0 } },
      plugins: {
        legend: { display: false },
        tooltip: { enabled: false },
        markerLegend: p.legend
      },
      scales: {
        x: {
          type: 'linear', min: 0, max: p.xMax,
          ticks: { stepSize: p.xStep, color: '#000', font: tickFont, padding: 12, maxRotation: 0,
                   callback: v => String(v) },
          grid: { display: false, drawTicks: false },
          border: { display: true, color: '#000', width: 1.3 },
          afterFit(s) { s.height = p.xHeight; }
        },
        y: {
          type: 'linear', min: 0, max: 2,
          ticks: { stepSize: 0.5, color: '#000', font: tickFont, padding: 9,
                   callback: v => String(Math.round(v * 10) / 10) },
          grid: { display: false, drawTicks: false },
          border: { display: true, color: '#000', width: 1.3 },
          afterFit(s) { s.width = 92; }
        }
      }
    }
  });
}

makePanel('ca', {
  xMax: 60, xStep: 20, padTop: 19.5, padRight: 54, xHeight: 52,
  ref: [aRefLines, aRefMarks], m1: [aM1Lines, aM1Marks], m6: [aM6Lines, aM6Marks], m24: [aM24Lines, aM24Marks],
  pre: { lines: aPreLines, sq: aOpenSq, tri: aOpenTri, dia: aOpenDia },
  r: { circle: 4.3, dia: 4, tri: 5, sq: 6.8, open: 4 },
  legend: { rows: [85, 115, 144, 173], xs: [306.7, 341, 376.7], size: [7.5, 7.5, 8, 7.5] }
});

makePanel('cb', {
  xMax: 5, xStep: 1, padTop: 24, padRight: 48, xHeight: 50,
  ref: [bRefLines, bRefMarks], m1: [bM1Lines, bM1Marks], m6: [bM6Lines, bM6Marks], m24: [bM24Lines, bM24Marks],
  pre: { lines: bPreLines, sq: bOpenSq, tri: bOpenTri, dia: bOpenDia },
  r: { circle: 5, dia: 5, tri: 6, sq: 6.8, open: 4.2 },
  legend: { rows: [82, 113, 144, 175], xs: [365, 401, 437], size: [9, 8, 9.5, 9] }
});

makePanel('cc', {
  xMax: 5, xStep: 1, padTop: 25, padRight: 48, xHeight: 49.3,
  ref: [cRefLines, cRefMarks], m1: [cM1Lines, cM1Marks], m6: [cM6Lines, cM6Marks], m24: [cM24Lines, cM24Marks],
  pre: { lines: cPreLines, sq: cOpenSq, tri: cOpenTri, dia: cOpenDia },
  r: { circle: 5, dia: 4.5, tri: 5.5, sq: 6.3, open: 4.4 },
  legend: { rows: [81, 111, 141, 171], xs: [365, 401, 437], size: [8, 7.5, 8.5, 7.5] }
});
</script>
</body>
</html>
